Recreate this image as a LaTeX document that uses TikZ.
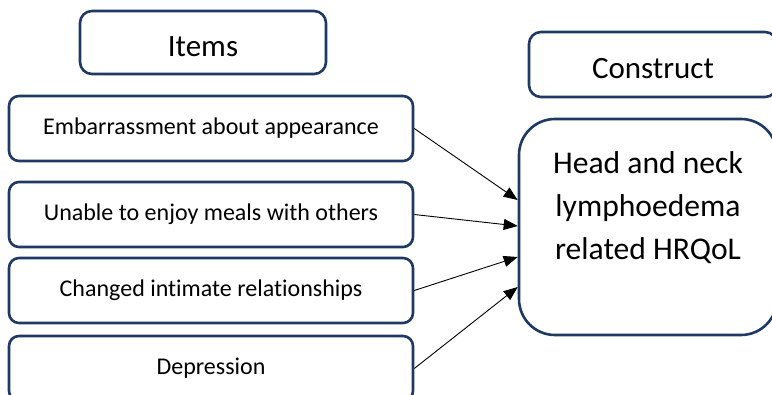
\documentclass[tikz,border=0pt]{standalone}
\usepackage{fontspec}
\setmainfont{Carlito}[Ligatures=NoCommon]
\usetikzlibrary{arrows.meta}
\definecolor{navy}{RGB}{31,56,100}
\begin{document}
\begin{tikzpicture}[x=1pt,y=-1pt,
  box/.style={draw=navy, line width=2.6pt, rounded corners=10pt, fill=white,
              inner sep=0pt, minimum height=65pt, align=center},
  itembox/.style={box, minimum width=404pt, font=\fontsize{24}{28}\selectfont},
  headbox/.style={box, rounded corners=12pt, font=\fontsize{31}{37}\selectfont,
                  text height=29pt, text depth=0pt},
  link/.style={-{Triangle[length=14pt,width=11pt]}, line width=0.9pt, black}]
\useasboundingbox (0,0) rectangle (772,395);
\clip (0,0) rectangle (772,395);

% column headings
\node[headbox, minimum width=246pt, minimum height=63pt] (items) at (203,42.5) {Items};
\node[headbox, minimum width=248pt] (construct) at (653,64.5) {Construct};

% item boxes
\node[itembox] (i1) at (211,128.5) {Embarrassment about appearance};
\node[itembox] (i2) at (211,214.5) {Unable to enjoy meals with others};
\node[itembox] (i3) at (211,290.5) {Changed intimate relationships};
\node[itembox] (i4) at (211,368.5) {Depression};

% construct box
\node[box, rounded corners=36pt, minimum width=258pt, minimum height=216pt,
      font=\fontsize{31.6}{43}\selectfont] (hr) at (648,227)
  {Head and neck\\lymphoedema\\related HRQoL\\\mbox{}};

% item-to-construct links
\draw[link] (i1.east) -- ([yshift=27pt]hr.west);
\draw[link] (i2.east) -- ([yshift=1pt]hr.west);
\draw[link] (i3.east) -- ([yshift=-30pt]hr.west);
\draw[link] (i4.east) -- ([yshift=-60pt]hr.west);
\end{tikzpicture}
\end{document}
